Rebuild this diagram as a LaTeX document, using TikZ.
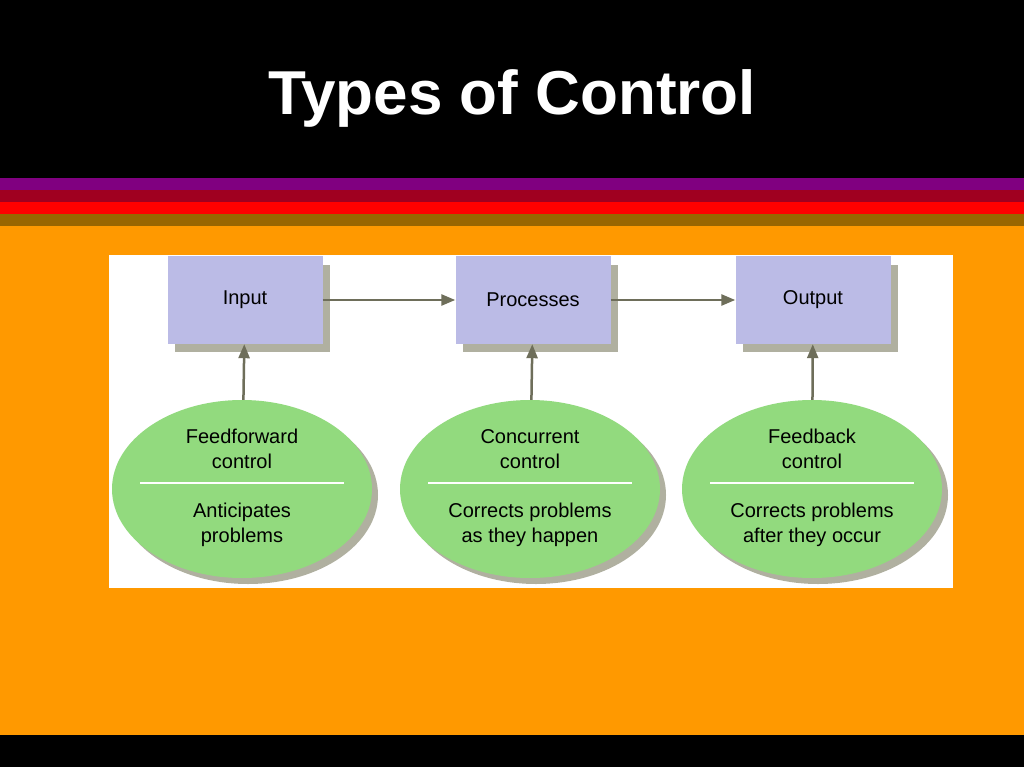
\documentclass[tikz,border=0pt]{standalone}
\usepackage{fontspec}
\setmainfont{Liberation Sans}
\usetikzlibrary{shapes.geometric, arrows.meta, positioning}
\definecolor{stripepurple}{HTML}{800080}
\definecolor{stripewine}{HTML}{A00020}
\definecolor{stripered}{HTML}{FF0000}
\definecolor{stripebrown}{HTML}{996600}
\definecolor{slideorange}{HTML}{FF9900}
\definecolor{boxlav}{HTML}{BBBBE6}
\definecolor{ovalgreen}{HTML}{92DA7E}
\definecolor{arrowgray}{HTML}{6E6E5A}
\definecolor{shadowgray}{HTML}{B0B0A0}

\begin{document}
\begin{tikzpicture}[
    x=1pt, y=-1pt,
    stagebox/.style={fill=boxlav, minimum width=155pt, minimum height=88pt, font=\fontsize{20}{24}\selectfont, inner sep=0pt},
    ctrloval/.style={ellipse, fill=ovalgreen, minimum width=260pt, minimum height=178pt, inner sep=0pt},
    ovaltext/.style={font=\fontsize{20}{25}\selectfont, align=center},
    flow/.style={-{Triangle[length=14pt, width=11pt]}, arrowgray, line width=2.5pt}
  ]
    \useasboundingbox (0,0) rectangle (1024,767);
    % Slide background
    \fill[black] (0,0) rectangle (1024,767);
    \fill[stripepurple] (0,178) rectangle (1024,190);
    \fill[stripewine] (0,190) rectangle (1024,202);
    \fill[stripered] (0,202) rectangle (1024,214);
    \fill[stripebrown] (0,214) rectangle (1024,226);
    \fill[slideorange] (0,226) rectangle (1024,735);
    \fill[white] (109,255) rectangle (953,588);
    \node[font=\fontsize{62}{70}\selectfont\bfseries, text=white] (title) at (512,98) {Types of Control};

    % Stages with shadows
    \foreach \x/\name/\txt in {245/input/Input, 533/proc/Processes, 813/output/Output} {
      \fill[shadowgray] (\x-70,265) rectangle (\x+85,352);
      \node[stagebox] (\name) at (\x,300) {\txt};
    }

    % Control ovals with shadows
    \foreach \x/\name/\uptxt/\lowtxt in {242/ff/{Feedforward\\control}/{Anticipates\\problems},
        530/cc/{Concurrent\\control}/{Corrects problems\\as they happen},
        812/fb/{Feedback\\control}/{Corrects problems\\after they occur}} {
      \fill[shadowgray] (\x+6,495) ellipse [x radius=130pt, y radius=89pt];
      \node[ctrloval] (\name) at (\x,489) {};
      \draw[white, line width=2pt] (\x-102,483) -- (\x+102,483);
      \node[ovaltext] (\name top) at (\x,449) {\uptxt};
      \node[ovaltext] (\name bot) at (\x,525) {\lowtxt};
    }

    \draw[flow] (input) -- (proc);
    \draw[flow] (proc) -- (output);
    \draw[flow] (ff) -- (input);
    \draw[flow] (cc) -- (proc);
    \draw[flow] (fb) -- (output);
  \end{tikzpicture}
\end{document}
